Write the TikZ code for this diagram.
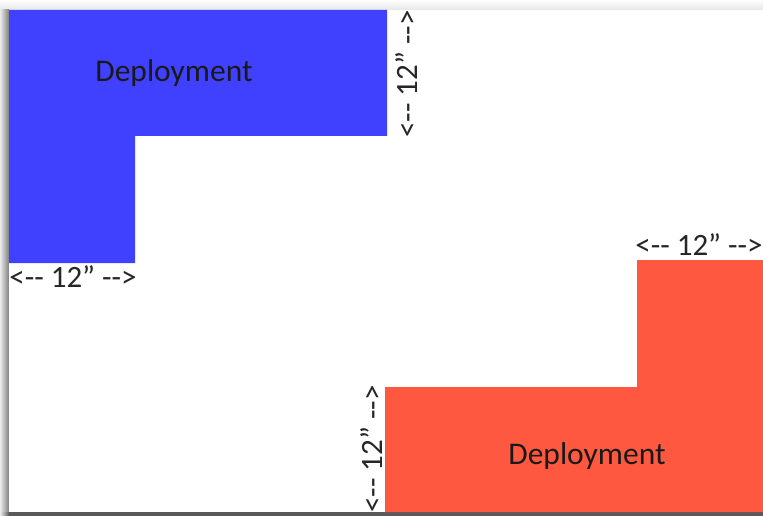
\documentclass[tikz,border=0pt]{standalone}
\usepackage{fontspec}
\newfontfamily\calib{Carlito}
\definecolor{deployblue}{RGB}{64,64,255}
\definecolor{deployred}{RGB}{255,88,64}
\begin{document}
\begin{tikzpicture}[x=1pt,y=-1pt,
  label12/.style={font=\calib\fontsize{31}{32}\selectfont, inner sep=0pt, text=black!85},
  areatext/.style={font=\calib\fontsize{31.5}{33}\selectfont, inner sep=0pt, text=black!90}]
  \useasboundingbox (0,0) rectangle (763,516);
  % page shadow: light haze on top, soft gray on the left, dark band at the bottom
  \shade[top color=white, bottom color=black!10] (0,0) rectangle (763,10);
  \shade[left color=black!8, right color=black!50] (0,10) rectangle (9,516);
  \fill[black!65] (9,512) rectangle (763,516);
  \shade[left color=black!8, right color=black!65] (0,512) rectangle (9,516);
  % page
  \fill[white] (9,10) rectangle (763,512);
  % blue L-shaped area (top left)
  \fill[deployblue] (9,10) -- (387,10) -- (387,136) -- (135,136) -- (135,263) -- (9,263) -- cycle;
  % red L-shaped area (bottom right)
  \fill[deployred] (637,260) -- (763,260) -- (763,512) -- (385,512) -- (385,387) -- (637,387) -- cycle;
  % area names
  \node[areatext] (blueName) at (174,73) {Deployment};
  \node[areatext] (redName) at (587,456) {Deployment};
  % 12 inch dimension labels
  \node[label12] (blueWidth) at (73,277) {<-- 12” -->};
  \node[label12, rotate=90] (blueHeight) at (407,74) {<-- 12” -->};
  \node[label12] (redWidth) at (699,245) {<-- 12” -->};
  \node[label12, rotate=90] (redHeight) at (372,449) {<-- 12” -->};
\end{tikzpicture}
\end{document}
